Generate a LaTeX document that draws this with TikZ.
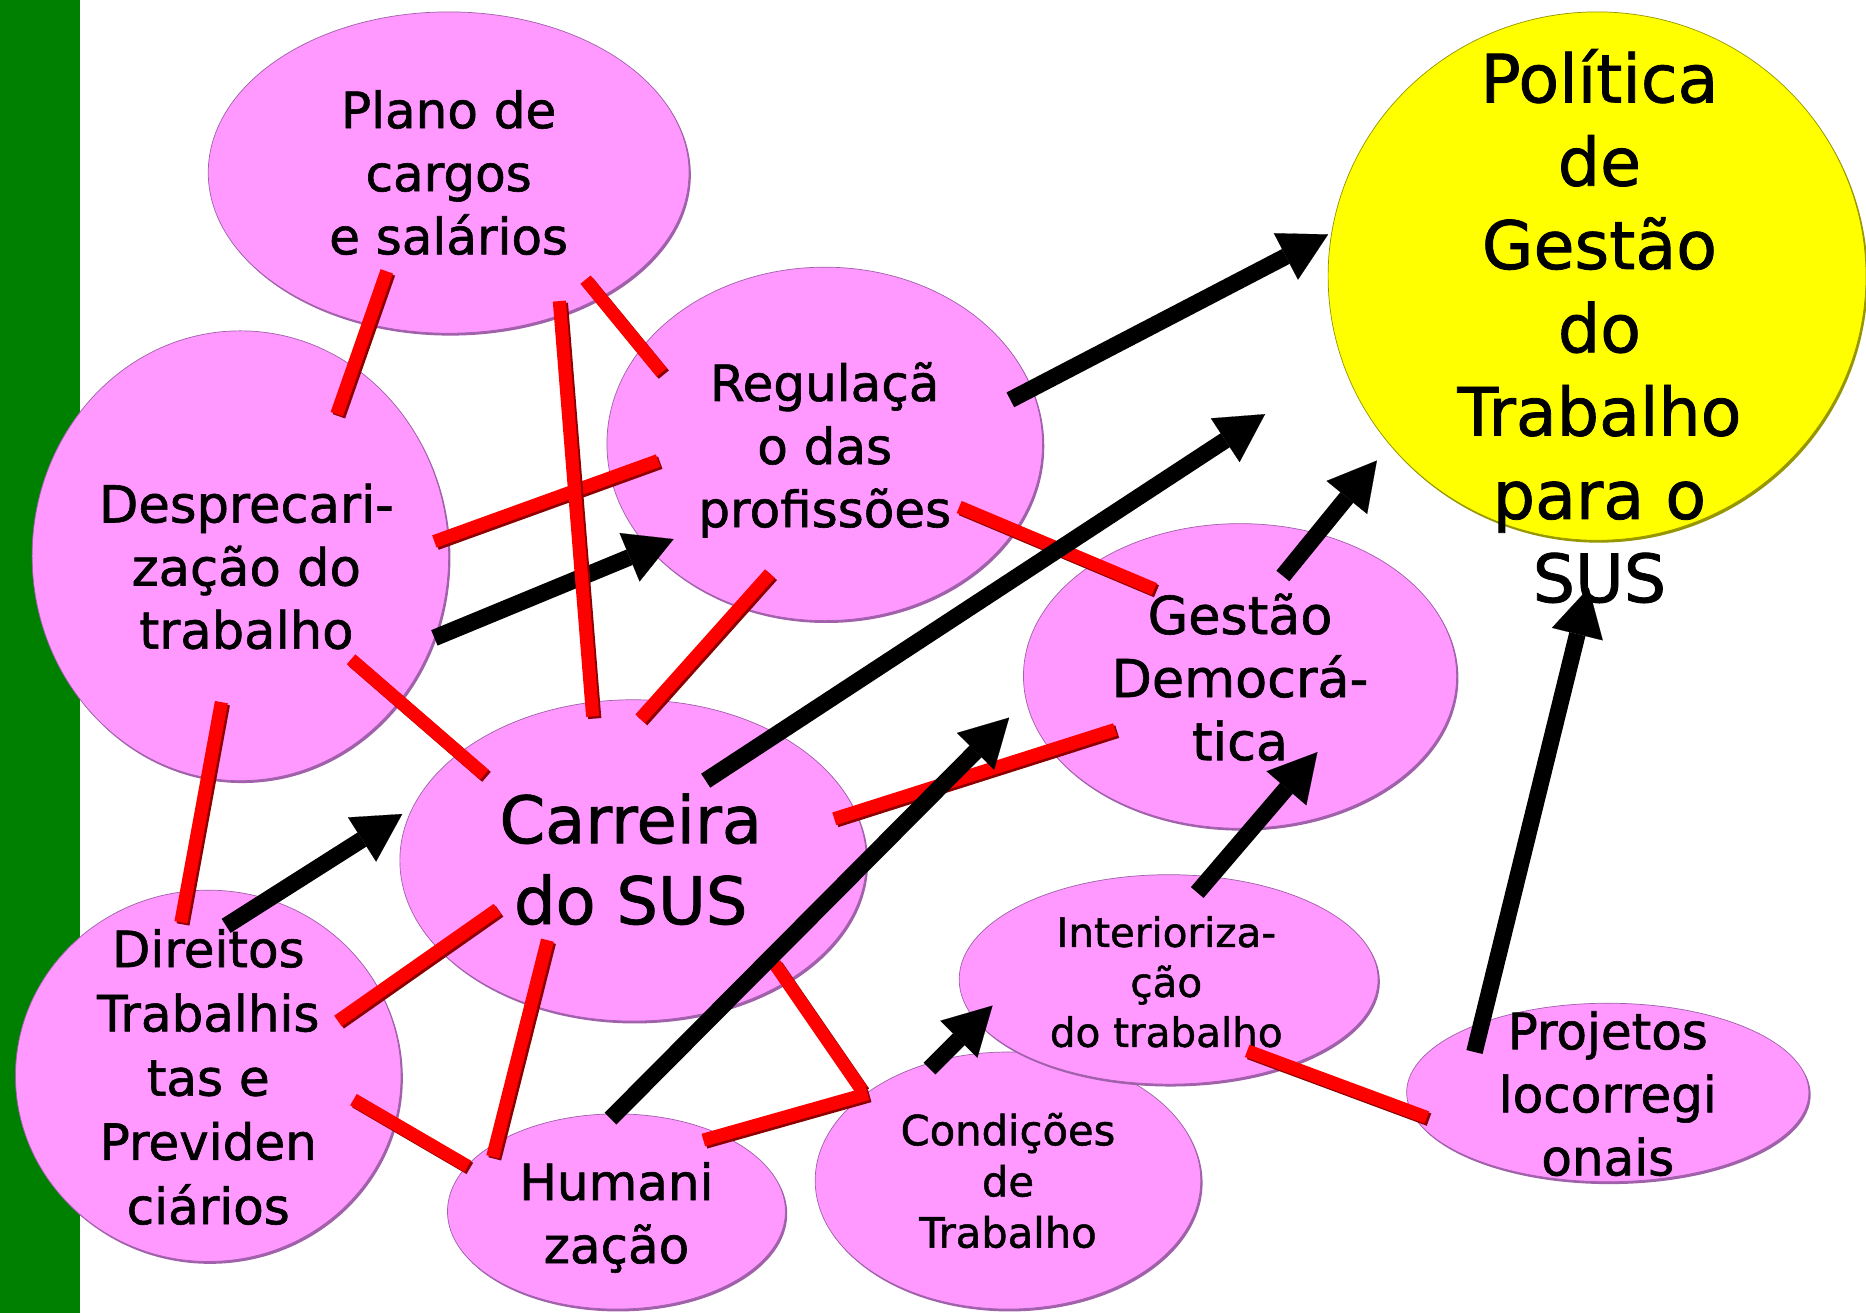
\documentclass[tikz,border=0pt]{standalone}
\usepackage{fontspec}
\setmainfont[FakeBold=1.2]{DejaVu Sans}
\usetikzlibrary{shapes.geometric,arrows.meta,shadows}
\definecolor{pinkfill}{RGB}{255,153,255}
\definecolor{pinkedge}{RGB}{160,96,170}
\definecolor{ylw}{RGB}{255,255,0}
\definecolor{ylwedge}{RGB}{150,150,0}
\definecolor{grn}{RGB}{0,128,0}
\definecolor{redbar}{RGB}{255,0,0}
\definecolor{redshade}{RGB}{140,0,0}
\newcommand\fsz[2]{\fontsize{#1}{#2}\selectfont}
\newcommand\rbar[2]{\draw[rshadow] (#1) -- (#2); \draw[rline] (#1) -- (#2);}
\begin{document}
\begin{tikzpicture}[x=1pt,y=-1pt,
  bubble/.style={ellipse, inner sep=0pt, fill=pinkfill, draw=pinkedge, line width=0.6pt,
    general shadow={fill=pinkedge, shadow xshift=1.5pt, shadow yshift=-2pt}},
  goal/.style={ellipse, inner sep=0pt, fill=ylw, draw=ylwedge, line width=0.6pt,
    general shadow={fill=ylwedge, shadow xshift=1.5pt, shadow yshift=-2pt}},
  label/.style={align=center, inner sep=0pt, text=black},
  rline/.style={draw=redbar, line width=11pt},
  rshadow/.style={draw=redshade, line width=11pt, transform canvas={shift={(1.8pt,-1.8pt)}}},
  barrow/.style={draw=black, line width=14pt, -{Triangle[width=44pt,length=40pt,line width=0.1pt]}}
]
\useasboundingbox (0,0) rectangle (1568,1103);
\fill[white] (0,0) rectangle (1568,1103);
\fill[grn] (0,0) rectangle (67,1103);

% ellipses
\node[bubble, minimum width=404pt, minimum height=270pt] (P) at (377,145) {};
\node[bubble, minimum width=350pt, minimum height=378pt] (D) at (202,467) {};
\node[bubble, minimum width=366pt, minimum height=297pt] (R) at (693,373) {};
\node[goal, minimum width=452pt, minimum height=444pt] (Pol) at (1342,232) {};
\node[bubble, minimum width=364pt, minimum height=256pt] (G) at (1042,568) {};
\node[bubble, minimum width=392pt, minimum height=270pt] (C) at (532,723) {};
\node[bubble, minimum width=324pt, minimum height=312pt] (Dir) at (175,904) {};
\node[bubble, minimum width=324pt, minimum height=216pt] (Co) at (847,992) {};
\node[bubble, minimum width=352pt, minimum height=176pt] (I) at (982,823) {};
\node[bubble, minimum width=284pt, minimum height=164pt] (H) at (518,1018) {};
\node[bubble, minimum width=338pt, minimum height=150pt] (Pr) at (1351,918) {};

% texts
\node[label, font=\fsz{42}{53}] (Pt) at (377,145) {Plano de\\cargos\\e salários};
\node[label, font=\fsz{43}{53}] (Dt) at (207,476) {Desprecari-\\zação do\\trabalho};
\node[label, font=\fsz{42}{53}] (Rt) at (693,378) {Regulaçã\\o das\\profissões};
\node[label, font=\fsz{56}{70}] (Polt) at (1344,274) {Política\\de\\Gestão\\do\\Trabalho\\para o\\SUS};
\node[label, font=\fsz{44}{53}] (Gt) at (1042,569) {Gestão\\Democrá-\\tica};
\node[label, font=\fsz{55}{68}] (Ct) at (530,722) {Carreira\\do SUS};
\node[label, font=\fsz{42}{54}] (Dirt) at (175,905) {Direitos\\Trabalhis\\tas e\\Previden\\ciários};
\node[label, font=\fsz{34}{42}] (It) at (980,825) {Interioriza-\\ção\\do trabalho};
\node[label, font=\fsz{35}{43}] (Cot) at (847,992) {Condições\\de\\Trabalho};
\node[label, font=\fsz{42}{53}] (Ht) at (518,1023) {Humani\\zação};
\node[label, font=\fsz{42}{53}] (Prt) at (1351,919) {Projetos\\locorregi\\onais};

% connector end points
\coordinate (r1a) at (325,228); \coordinate (r1b) at (283,348);
\coordinate (r2a) at (470,253); \coordinate (r2b) at (498,602);
\coordinate (r3a) at (492,235); \coordinate (r3b) at (556,313);
\coordinate (r4a) at (365,455); \coordinate (r4b) at (553,387);
\coordinate (r5a) at (295,554); \coordinate (r5b) at (407,651);
\coordinate (r6a) at (186,590); \coordinate (r6b) at (152,775);
\coordinate (r7a) at (647,482); \coordinate (r7b) at (538,604);
\coordinate (r8a) at (806,426); \coordinate (r8b) at (970,495);
\coordinate (r9a) at (701,688); \coordinate (r9b) at (937,613);
\coordinate (r10a) at (418,764); \coordinate (r10b) at (284,858);
\coordinate (r11a) at (460,790); \coordinate (r11b) at (414,972);
\coordinate (r12a) at (651,810); \coordinate (r12b) at (724,916);
\coordinate (r13a) at (591,958); \coordinate (r13b) at (729,919);
\coordinate (r14a) at (297,924); \coordinate (r14b) at (393,980);
\coordinate (r15a) at (1048,883); \coordinate (r15b) at (1199,939);

\coordinate (a1a) at (849,336); \coordinate (a1b) at (1116,197);
\coordinate (a2a) at (593,656); \coordinate (a2b) at (1063,348);
\coordinate (a3a) at (1078,484); \coordinate (a3b) at (1157,387);
\coordinate (a4a) at (1239,884); \coordinate (a4b) at (1335,494);
\coordinate (a5a) at (365,536); \coordinate (a5b) at (566,453);
\coordinate (a6a) at (190,778); \coordinate (a6b) at (338,684);
\coordinate (a7a) at (513,940); \coordinate (a7b) at (848,603);
\coordinate (a8a) at (1006,750); \coordinate (a8b) at (1107,632);
\coordinate (a9a) at (781,898); \coordinate (a9b) at (834,845);

% red links
\rbar{r1a}{r1b}
\rbar{r3a}{r3b}
\rbar{r4a}{r4b}
\rbar{r5a}{r5b}
\rbar{r6a}{r6b}
\rbar{r7a}{r7b}
\rbar{r8a}{r8b}
\rbar{r9a}{r9b}
\rbar{r10a}{r10b}
\rbar{r11a}{r11b}
\rbar{r12a}{r12b}
\rbar{r13a}{r13b}
\rbar{r14a}{r14b}
\rbar{r15a}{r15b}

% black arrows
\draw[barrow] (a1a) -- (a1b);
\draw[barrow] (a2a) -- (a2b);
\draw[barrow] (a3a) -- (a3b);
\draw[barrow] (a4a) -- (a4b);
\draw[barrow] (a5a) -- (a5b);
\draw[barrow] (a6a) -- (a6b);
\draw[barrow] (a7a) -- (a7b);
\draw[barrow] (a8a) -- (a8b);
\draw[barrow] (a9a) -- (a9b);

% red link drawn over the arrow it crosses
\rbar{r2a}{r2b}
\end{tikzpicture}
\end{document}
